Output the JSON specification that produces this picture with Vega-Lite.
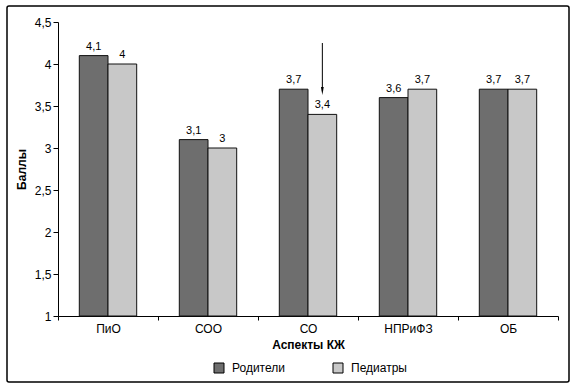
{
  "$schema": "https://vega.github.io/schema/vega-lite/v6.json",
  "width": 562,
  "height": 376,
  "autosize": {"type": "none"},
  "padding": {"left": 7, "top": 6, "right": 6, "bottom": 4},
  "background": "white",
  "config": {
    "font": "Liberation Sans",
    "locale": {"number": {"decimal": ",", "thousands": " ", "grouping": [3], "currency": ["", ""]}},
    "view": {"stroke": "#000", "strokeWidth": 1.5, "cornerRadius": 2},
    "axis": {
      "domainColor": "#000", "tickColor": "#000", "labelColor": "#000", "titleColor": "#000",
      "labelFont": "Liberation Sans", "titleFont": "Liberation Sans",
      "labelFontSize": 12, "titleFontSize": 12, "titleFontWeight": "bold",
      "grid": false, "domainWidth": 1, "tickWidth": 1
    }
  },
  "layer": [
    {
      "data": {"values": [
        {"aspect": "ПиО", "group": "Родители", "value": 4.1},
        {"aspect": "ПиО", "group": "Педиатры", "value": 4.0},
        {"aspect": "СОО", "group": "Родители", "value": 3.1},
        {"aspect": "СОО", "group": "Педиатры", "value": 3.0},
        {"aspect": "СО", "group": "Родители", "value": 3.7},
        {"aspect": "СО", "group": "Педиатры", "value": 3.4},
        {"aspect": "НПРиФЗ", "group": "Родители", "value": 3.6},
        {"aspect": "НПРиФЗ", "group": "Педиатры", "value": 3.7},
        {"aspect": "ОБ", "group": "Родители", "value": 3.7},
        {"aspect": "ОБ", "group": "Педиатры", "value": 3.7}
      ]},
      "encoding": {
        "x": {"field": "aspect", "type": "nominal", "title": "Аспекты КЖ",
          "sort": ["ПиО", "СОО", "СО", "НПРиФЗ", "ОБ"],
          "scale": {"range": [51, 551], "paddingInner": 0, "paddingOuter": 0},
          "axis": {"labelAngle": 0, "offset": -66, "tickBand": "extent", "tickSize": 4, "labelPadding": 3, "titlePadding": 5}},
        "xOffset": {"field": "group", "type": "nominal", "sort": ["Родители", "Педиатры"],
          "scale": {"paddingInner": 0, "paddingOuter": 0.742}},
        "y": {"field": "value", "type": "quantitative", "title": "Баллы",
          "scale": {"domain": [1, 4.5], "range": [310, 16], "nice": false, "zero": false},
          "axis": {"values": [1, 1.5, 2, 2.5, 3, 3.5, 4, 4.5], "format": "~g", "offset": -51, "tickSize": 5, "labelPadding": 2, "titlePadding": 6}}
      },
      "layer": [
        {
          "mark": {"type": "bar", "stroke": "#111", "strokeWidth": 1},
          "encoding": {
            "y2": {"datum": 1},
            "color": {"field": "group", "type": "nominal", "sort": ["Родители", "Педиатры"],
              "scale": {"range": ["#6e6e6e", "#c8c8c8"]},
              "legend": {"title": null, "orient": "none", "legendX": 206, "legendY": 356, "direction": "horizontal",
                "symbolType": "square", "symbolSize": 100, "symbolStrokeColor": "#000", "symbolStrokeWidth": 1,
                "symbolOpacity": 1, "labelFontSize": 12, "labelFont": "Liberation Sans", "labelColor": "#000",
                "labelOffset": 7, "columnPadding": 46}}
          }
        },
        {
          "mark": {"type": "text", "baseline": "alphabetic", "dy": -6, "fontSize": 11, "color": "#000"},
          "encoding": {"text": {"field": "value", "type": "quantitative", "format": "~g"}}
        }
      ]
    },
    {
      "data": {"values": [{"aspect": "СО", "group": "Педиатры", "top": 4.25, "tip": 3.68}]},
      "encoding": {
        "x": {"field": "aspect", "type": "nominal", "title": "Аспекты КЖ",
          "sort": ["ПиО", "СОО", "СО", "НПРиФЗ", "ОБ"]},
        "xOffset": {"field": "group", "type": "nominal", "sort": ["Родители", "Педиатры"]},
        "y": {"field": "top", "type": "quantitative", "title": "Баллы"}
      },
      "layer": [
        {
          "mark": {"type": "rule", "color": "#000", "strokeWidth": 1},
          "encoding": {"y2": {"field": "tip"}}
        },
        {
          "mark": {"type": "point", "shape": "M-0.35,-1L0.35,-1L0,1Z", "filled": true, "color": "#000", "size": 64, "opacity": 1},
          "encoding": {"y": {"field": "tip", "type": "quantitative", "title": "Баллы"}}
        }
      ]
    }
  ]
}
